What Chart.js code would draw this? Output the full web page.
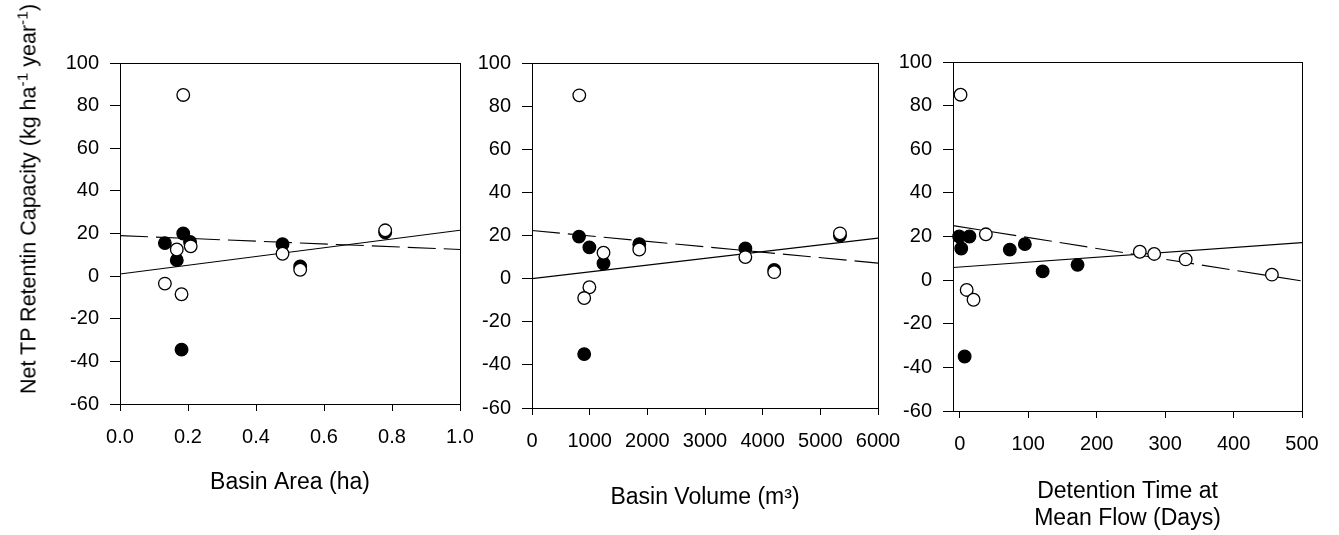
<!DOCTYPE html>
<html>
<head>
<meta charset="utf-8">
<script src="https://cdn.jsdelivr.net/npm/chart.js@4.4.1/dist/chart.umd.min.js"></script>
<style>
  html, body { margin: 0; padding: 0; background: #fff; }
  #wrap { position: relative; width: 1339px; height: 535px; overflow: hidden; }
  #wrap canvas { position: absolute; left: 0; top: 0; }
  #ytitle {
    position: absolute; left: 29px; top: 199px;
    transform: translate(-50%, -50%) rotate(-90deg);
    font-family: "Liberation Sans", Arial, sans-serif; font-size: 21.5px;
    white-space: nowrap; color: #000;
  }
  #ytitle sup { font-size: 0.72em; line-height: 0; }
</style>
</head>
<body>
<div id="wrap">
  <canvas id="c1" width="1339" height="535"></canvas>
  <canvas id="c2" width="1339" height="535"></canvas>
  <canvas id="c3" width="1339" height="535"></canvas>
  <div id="ytitle">Net TP Retentin Capacity (kg ha<sup>-1</sup> year<sup>-1</sup>)</div>
</div>
<script>
// shared y axis
const yTicks = [-60, -40, -20, 0, 20, 40, 60, 80, 100];

// Basin area (ha)
const areaTicks = [0, 0.2, 0.4, 0.6, 0.8, 1.0];
const areaFilledX = [0.186, 0.132, 0.206, 0.167, 0.478, 0.53, 0.78, 0.181];
const areaFilledY = [20, 15.5, 16, 7.5, 15, 4.5, 20.5, -34.5];
const areaOpenX = [0.186, 0.167, 0.208, 0.478, 0.53, 0.78, 0.132, 0.181];
const areaOpenY = [85, 12.5, 14, 10.5, 3, 21.5, -3.5, -8.5];
const areaSolidX = [0, 1], areaSolidY = [1, 21.5];
const areaDashX = [0, 1], areaDashY = [19, 12.5];

// Basin volume (m3)
const volTicks = [0, 1000, 2000, 3000, 4000, 5000, 6000];
const volFilledX = [815, 995, 1240, 1860, 3700, 4200, 5340, 905];
const volFilledY = [19.5, 14.5, 7, 16, 14, 4, 20, -35];
const volOpenX = [820, 1240, 1860, 3700, 4200, 5340, 995, 905];
const volOpenY = [85, 12, 13.5, 10, 3, 21, -4, -9];
const volSolidX = [0, 6000], volSolidY = [0, 18.8];
const volDashX = [0, 6000], volDashY = [22.3, 7.2];

// Detention time (days)
const detTicks = [0, 100, 200, 300, 400, 500];
const detFilledX = [-1, 14, 2, 73, 95, 121, 172, 7];
const detFilledY = [20, 20, 14.5, 14, 16.5, 4, 7, -35];
const detOpenX = [1, 38, 263, 284, 330, 456, 10, 20];
const detOpenY = [85, 21, 13, 12, 9.5, 2.5, -4.5, -9];
const detSolidX = [-10, 500], detSolidY = [5.8, 17.2];
const detDashX = [-10, 500], detDashY = [25, -0.4];

const FONT = "'Liberation Sans', Arial, sans-serif";
const W = 1339, H = 535;

const zip = (xs, ys) => xs.map((x, i) => ({ x: x, y: ys[i] }));

// frame around the plot area
const boxPlugin = {
  id: "box",
  afterDraw(chart) {
    const a = chart.chartArea, ctx = chart.ctx;
    ctx.save();
    ctx.strokeStyle = "#000";
    ctx.lineWidth = 1;
    ctx.strokeRect(Math.round(a.left) + 0.5, Math.round(a.top) + 0.5,
      Math.round(a.right - a.left), Math.round(a.bottom - a.top));
    ctx.restore();
  }
};

function makePanel(id, p) {
  const fitLine = (pts, dash) => ({
    data: pts, showLine: true, borderColor: "#000", borderWidth: 1.1,
    borderDash: dash, pointRadius: 0, fill: false, order: 3
  });
  new Chart(document.getElementById(id), {
    type: "scatter",
    data: {
      datasets: [
        { data: p.open, pointRadius: 6.3, borderWidth: 1.3, borderColor: "#000",
          backgroundColor: "#fff", order: 1 },
        { data: p.filled, pointRadius: 6.3, borderWidth: 1.3, borderColor: "#000",
          backgroundColor: "#000", order: 2 },
        fitLine(p.solid, []),
        fitLine(p.dash, [28, 8])
      ]
    },
    options: {
      responsive: false,
      animation: false,
      clip: false,
      layout: { padding: { left: p.left - 60, right: W - p.right, top: p.top, bottom: 0 } },
      plugins: { legend: { display: false }, tooltip: { enabled: false } },
      scales: {
        x: {
          type: "linear", min: p.xMin, max: p.xMax,
          afterFit: s => { s.height = H - p.bottom; },
          afterBuildTicks: s => { s.ticks = p.xTicks.map(v => ({ value: v })); },
          grid: { drawOnChartArea: false, tickLength: 7, color: "#000" },
          border: { color: "#000" },
          ticks: { color: "#000", padding: 14, maxRotation: 0, autoSkip: false,
            font: { family: FONT, size: 20 }, callback: p.fmt },
          title: { display: true, text: p.title, color: "#000",
            font: { family: FONT, size: 23, lineHeight: 1.17 },
            padding: { top: 0, bottom: p.titlePad } }
        },
        y: {
          type: "linear", min: -60, max: 100,
          afterFit: s => { s.width = 60; },
          afterBuildTicks: s => { s.ticks = yTicks.map(v => ({ value: v })); },
          grid: { drawOnChartArea: false, tickLength: 10, color: "#000" },
          border: { color: "#000" },
          ticks: { color: "#000", padding: 11, font: { family: FONT, size: 20 } }
        }
      }
    },
    plugins: [boxPlugin]
  });
}

makePanel("c1", {
  left: 120, right: 460, top: 63, bottom: 404,
  xMin: 0, xMax: 1, xTicks: areaTicks, fmt: v => v.toFixed(1),
  title: "Basin Area (ha)", titlePad: 38.5,
  filled: zip(areaFilledX, areaFilledY), open: zip(areaOpenX, areaOpenY),
  solid: zip(areaSolidX, areaSolidY), dash: zip(areaDashX, areaDashY)
});

makePanel("c2", {
  left: 532, right: 878, top: 63, bottom: 408,
  xMin: 0, xMax: 6000, xTicks: volTicks, fmt: v => String(v),
  title: "Basin Volume (m³)", titlePad: 23.5,
  filled: zip(volFilledX, volFilledY), open: zip(volOpenX, volOpenY),
  solid: zip(volSolidX, volSolidY), dash: zip(volDashX, volDashY)
});

makePanel("c3", {
  left: 953, right: 1302, top: 62, bottom: 411,
  xMin: -10, xMax: 500, xTicks: detTicks, fmt: v => String(v),
  title: ["Detention Time at", "Mean Flow (Days)"], titlePad: 3,
  filled: zip(detFilledX, detFilledY), open: zip(detOpenX, detOpenY),
  solid: zip(detSolidX, detSolidY), dash: zip(detDashX, detDashY)
});
</script>
</body>
</html>
